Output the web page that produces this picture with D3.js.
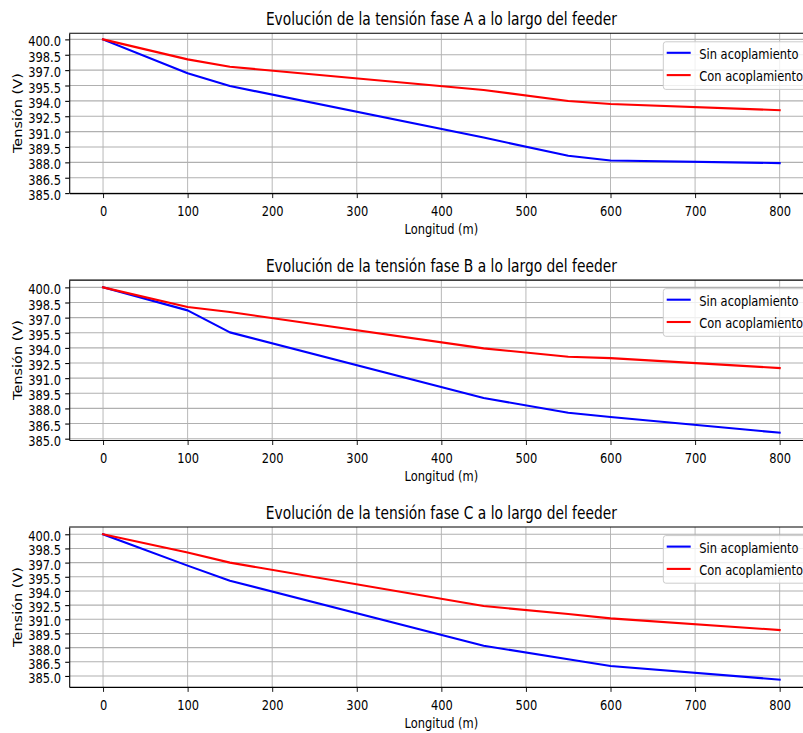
<!DOCTYPE html>
<html>
<head>
<meta charset="utf-8">
<script src="https://cdn.jsdelivr.net/npm/d3@7"></script>
<style>
  body { margin: 0; background: #ffffff; }
  svg { display: block; }
  text { font-family: "DejaVu Sans", sans-serif; fill: #000; }
</style>
</head>
<body>
<svg id="chart" width="803" height="733"></svg>
<script>
// Node positions along the feeder (m)
const distances = [0, 100, 150, 450, 550, 600, 800];
const phases = ["A", "B", "C"];

// Phase voltages (V) without and with coupling
const sinA = [400.0, 396.69, 395.45, 390.42, 388.64, 388.18, 387.93];
const conA = [400.0, 398.05, 397.33, 395.06, 393.99, 393.70, 393.09];
const sinB = [400.0, 397.72, 395.54, 389.03, 387.57, 387.15, 385.59];
const conB = [400.0, 398.05, 397.56, 393.95, 393.12, 392.99, 392.00];
const sinC = [400.0, 396.68, 395.09, 388.20, 386.76, 386.05, 384.61];
const conC = [400.0, 398.06, 397.00, 392.40, 391.56, 391.10, 389.86];

const seriesNames = ["Sin acoplamiento", "Con acoplamiento"];
const seriesColors = ["#0000ff", "#ff0000"];

const xTicks = [0, 100, 200, 300, 400, 500, 600, 700, 800];
const yTicks = [385.0, 386.5, 388.0, 389.5, 391.0, 392.5, 394.0, 395.5, 397.0, 398.5, 400.0];
const yTickLabels = ["385.0", "386.5", "388.0", "389.5", "391.0", "392.5", "394.0", "395.5", "397.0", "398.5", "400.0"];

const titles = phases.map(p => `Evolución de la tensión fase ${p} a lo largo del feeder`);
const xLabel = "Longitud (m)";
const yLabel = "Tensión (V)";

const panels = [
  { sin: sinA, con: conA },
  { sin: sinB, con: conB },
  { sin: sinC, con: conC }
];

// ---- layout ----
const SX = 0.79;               // horizontal text compression
const plotLeft = 69.2, plotRight = 813.5;
const plotH = 159.9;
const panelTops = [33.2, 280.1, 527.0];
const tickFont = 14.5, titleFont = 17.5;

const svg = d3.select("#chart");

// x range with 5% margins on each side
const xMin = d3.min(distances), xMax = d3.max(distances);
const xPad = 0.05 * (xMax - xMin);
const x = d3.scaleLinear().domain([xMin - xPad, xMax + xPad]).range([plotLeft, plotRight]);
const cx = (plotLeft + plotRight) / 2;

panels.forEach((pd, i) => {
  const top = panelTops[i];
  const g = svg.append("g").attr("transform", `translate(0,${top})`);

  // y range: data with 5% margins, widened to include every tick
  const all = pd.sin.concat(pd.con);
  const lo = d3.min(all), hi = d3.max(all);
  const m = 0.05 * (hi - lo);
  const y = d3.scaleLinear()
    .domain([Math.min(lo - m, d3.min(yTicks)), Math.max(hi + m, d3.max(yTicks))])
    .range([plotH, 0]);

  // grid
  g.append("g").selectAll("line").data(xTicks).join("line")
    .attr("x1", d => x(d)).attr("x2", d => x(d))
    .attr("y1", 0).attr("y2", plotH)
    .attr("stroke", "#b0b0b0").attr("stroke-width", 0.9);
  g.append("g").selectAll("line").data(yTicks).join("line")
    .attr("x1", plotLeft).attr("x2", plotRight)
    .attr("y1", d => y(d)).attr("y2", d => y(d))
    .attr("stroke", "#b0b0b0").attr("stroke-width", 1.1);

  // series lines
  const line = d3.line().x((d, k) => x(distances[k])).y(d => y(d));
  [pd.sin, pd.con].forEach((vals, s) => {
    g.append("path").datum(vals)
      .attr("d", line)
      .attr("fill", "none")
      .attr("stroke", seriesColors[s])
      .attr("stroke-width", 2.1)
      .attr("stroke-linejoin", "round")
      .attr("stroke-linecap", "square");
  });

  // top and right spines
  g.append("line").attr("x1", plotLeft).attr("x2", plotRight).attr("y1", 0).attr("y2", 0)
    .attr("stroke", "#000").attr("stroke-width", 1.1);
  g.append("line").attr("x1", plotRight).attr("x2", plotRight).attr("y1", 0).attr("y2", plotH)
    .attr("stroke", "#000").attr("stroke-width", 1.1);

  // bottom axis
  const xAxis = g.append("g").attr("transform", `translate(0,${plotH})`)
    .call(d3.axisBottom(x).tickValues(xTicks).tickSize(5).tickSizeOuter(0).tickFormat(d3.format("d")));
  xAxis.attr("font-family", null).attr("font-size", null);
  xAxis.select(".domain").attr("stroke", "#000").attr("stroke-width", 1.1);
  xAxis.selectAll(".tick line").attr("stroke", "#000").attr("stroke-width", 0.9);
  xAxis.selectAll(".tick text")
    .attr("y", 23.4).attr("dy", null)
    .attr("font-size", tickFont)
    .attr("transform", `scale(${SX},1)`);

  // left axis
  const yAxis = g.append("g").attr("transform", `translate(${plotLeft},0)`)
    .call(d3.axisLeft(y).tickValues(yTicks).tickSize(4).tickSizeOuter(0)
      .tickFormat((d, k) => yTickLabels[k]));
  yAxis.attr("font-family", null).attr("font-size", null);
  yAxis.select(".domain").attr("stroke", "#000").attr("stroke-width", 1.1);
  yAxis.selectAll(".tick line").attr("stroke", "#000").attr("stroke-width", 1.1);
  yAxis.selectAll(".tick text")
    .attr("x", -8.2 / SX).attr("dy", "0.45em")
    .attr("font-size", tickFont)
    .attr("transform", `scale(${SX},1)`);

  // title and axis labels
  g.append("text")
    .attr("transform", `translate(${cx},-8) scale(${SX},1)`)
    .attr("text-anchor", "middle")
    .attr("font-size", titleFont)
    .text(titles[i]);
  g.append("text")
    .attr("transform", `translate(${cx},${plotH + 41.2}) scale(${SX},1)`)
    .attr("text-anchor", "middle")
    .attr("font-size", tickFont)
    .text(xLabel);
  g.append("text")
    .attr("transform", `translate(17.5,${plotH / 2}) scale(${SX},1) rotate(-90)`)
    .attr("text-anchor", "middle")
    .attr("dy", "0.35em")
    .attr("font-size", tickFont)
    .text(yLabel);

  // legend (upper right)
  const lg = g.append("g");
  lg.append("rect")
    .attr("x", 663.3).attr("y", 8.6)
    .attr("width", 144.7).attr("height", 47.6)
    .attr("rx", 2.4).attr("ry", 3)
    .attr("fill", "#ffffff").attr("fill-opacity", 0.8)
    .attr("stroke", "#cccccc").attr("stroke-width", 1);
  seriesNames.forEach((name, s) => {
    const ly = 19.6 + s * 22.3;
    lg.append("line")
      .attr("x1", 666.7).attr("x2", 690.7)
      .attr("y1", ly).attr("y2", ly)
      .attr("stroke", seriesColors[s]).attr("stroke-width", 2.1);
    lg.append("text")
      .attr("transform", `translate(699.3,${ly + 6.3}) scale(${SX},1)`)
      .attr("font-size", tickFont)
      .text(name);
  });
});
</script>
</body>
</html>
